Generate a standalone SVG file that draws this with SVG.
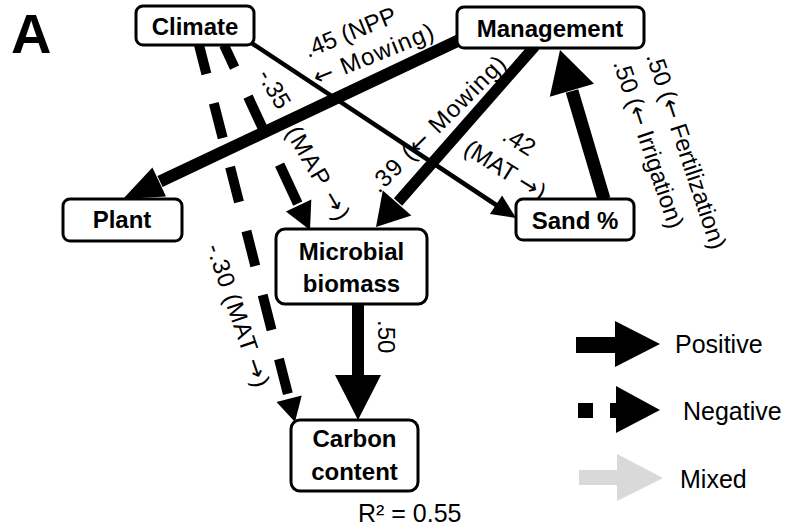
<svg xmlns="http://www.w3.org/2000/svg" width="786" height="531" viewBox="0 0 786 531">
<style>
.node rect{fill:#fff;stroke:#000;stroke-width:3}
.nt{font-family:"Liberation Sans",Arial,sans-serif;font-weight:bold;font-size:24px;text-anchor:middle;fill:#000}
.lb{font-family:"Liberation Sans",Arial,sans-serif;font-size:24px;fill:#000}
.ar{font-family:"DejaVu Sans",sans-serif}
.lg{font-family:"Liberation Sans",Arial,sans-serif;font-size:25px;fill:#000}
.sh{stroke:#000;fill:none;stroke-linecap:butt}
.hd{fill:#000}
</style>
<rect width="786" height="531" fill="#fff"/>
<text x="11" y="53" font-family="Liberation Sans, Arial, sans-serif" font-weight="bold" font-size="56">A</text>
<g id="connectors">
  <path class="sh" d="M199,45 L289.1,398.7" stroke-width="10" stroke-dasharray="36 30" stroke-dashoffset="6"/>
  <polygon class="hd" points="295,422 276.5,401.9 301.7,395.5"/>
  <path class="sh" d="M224,45 L298.6,205.5" stroke-width="10" stroke-dasharray="43 32" stroke-dashoffset="18"/>
  <polygon class="hd" points="310,230 285.9,211.4 311.3,199.6"/>
  <path class="sh" d="M250,42 L497,205.5" stroke-width="4.5"/>
  <polygon class="hd" points="516,218 489.9,214 502.1,195.6"/>
  <path class="sh" d="M470,35 L160,181.5" stroke-width="12"/>
  <polygon class="hd" points="123,199 166,196.4 152.4,167.4"/>
  <path class="sh" d="M535,46 L398,202" stroke-width="11"/>
  <polygon class="hd" points="376,227 411.4,215.5 382.8,190.5"/>
  <path class="sh" d="M604,199 L572,91" stroke-width="13"/>
  <polygon class="hd" points="560,50 594,83.8 549.8,96.8"/>
  <path class="sh" d="M358,304 L358,376" stroke-width="12"/>
  <polygon class="hd" points="358,420 335,375 381,375"/>
</g>
<g id="labels">
  <text class="lb" font-size="22" transform="translate(308,58) rotate(-22)">.45 (NPP</text>
  <text class="lb" textLength="128" transform="translate(317,86) rotate(-22)"><tspan class="ar">←</tspan> Mowing)</text>
  <text class="lb" transform="translate(257,75) rotate(60)">-.35</text>
  <text class="lb" textLength="104" transform="translate(285,132) rotate(60)">(MAP <tspan class="ar">→</tspan>)</text>
  <text class="lb" textLength="182" transform="translate(379,194) rotate(-45)">.39 (<tspan class="ar">←</tspan> Mowing)</text>
  <text class="lb" text-anchor="middle" transform="translate(515,148) rotate(32)">.42</text>
  <text class="lb" text-anchor="middle" transform="translate(501,177) rotate(32)">(MAT <tspan class="ar">→</tspan>)</text>
  <text class="lb" transform="translate(646,56) rotate(71.5)">.50 (<tspan class="ar">←</tspan> Fertilization)</text>
  <text class="lb" transform="translate(613,63) rotate(71.5)">.50 (<tspan class="ar">←</tspan> Irrigation)</text>
  <text class="lb" textLength="150" transform="translate(206,247) rotate(71)">-.30 (MAT <tspan class="ar">→</tspan>)</text>
  <text class="lb" transform="translate(378,320) rotate(90)">.50</text>
</g>
<g id="climate" class="node">
  <rect x="136" y="6" width="118" height="39" rx="7"/>
  <text class="nt" x="195" y="35">Climate</text>
</g>
<g id="management" class="node">
  <rect x="457" y="7" width="187" height="41" rx="7"/>
  <text class="nt" x="550" y="37">Management</text>
</g>
<g id="plant" class="node">
  <rect x="63" y="199" width="119" height="42" rx="7"/>
  <text class="nt" x="122" y="228">Plant</text>
</g>
<g id="sand" class="node">
  <rect x="516" y="199" width="118" height="41" rx="7"/>
  <text class="nt" x="575" y="229">Sand %</text>
</g>
<g id="microbial" class="node">
  <rect x="276" y="229" width="151" height="75" rx="9"/>
  <text class="nt" x="351.5" y="260">Microbial</text>
  <text class="nt" x="351.5" y="292">biomass</text>
</g>
<g id="carbon" class="node">
  <rect x="291" y="420" width="127" height="71" rx="9"/>
  <text class="nt" x="354.5" y="447">Carbon</text>
  <text class="nt" x="354.5" y="480">content</text>
</g>
<text class="lg" x="358" y="522" font-size="23">R² = 0.55</text>
<g id="legend">
  <rect x="576" y="337" width="40" height="16" fill="#000"/>
  <polygon points="615,321 660,344 615,367" fill="#000"/>
  <text class="lg" x="675" y="353">Positive</text>
  <rect x="578" y="403" width="15" height="15" fill="#000"/>
  <rect x="610" y="403" width="8" height="15" fill="#000"/>
  <polygon points="616,386 660,410 616,433" fill="#000"/>
  <text class="lg" x="683" y="420">Negative</text>
  <rect x="579" y="470" width="39" height="15" fill="#d9d9d9"/>
  <polygon points="617,454 663,478 617,501" fill="#d9d9d9"/>
  <text class="lg" x="680" y="488">Mixed</text>
</g>
</svg>
